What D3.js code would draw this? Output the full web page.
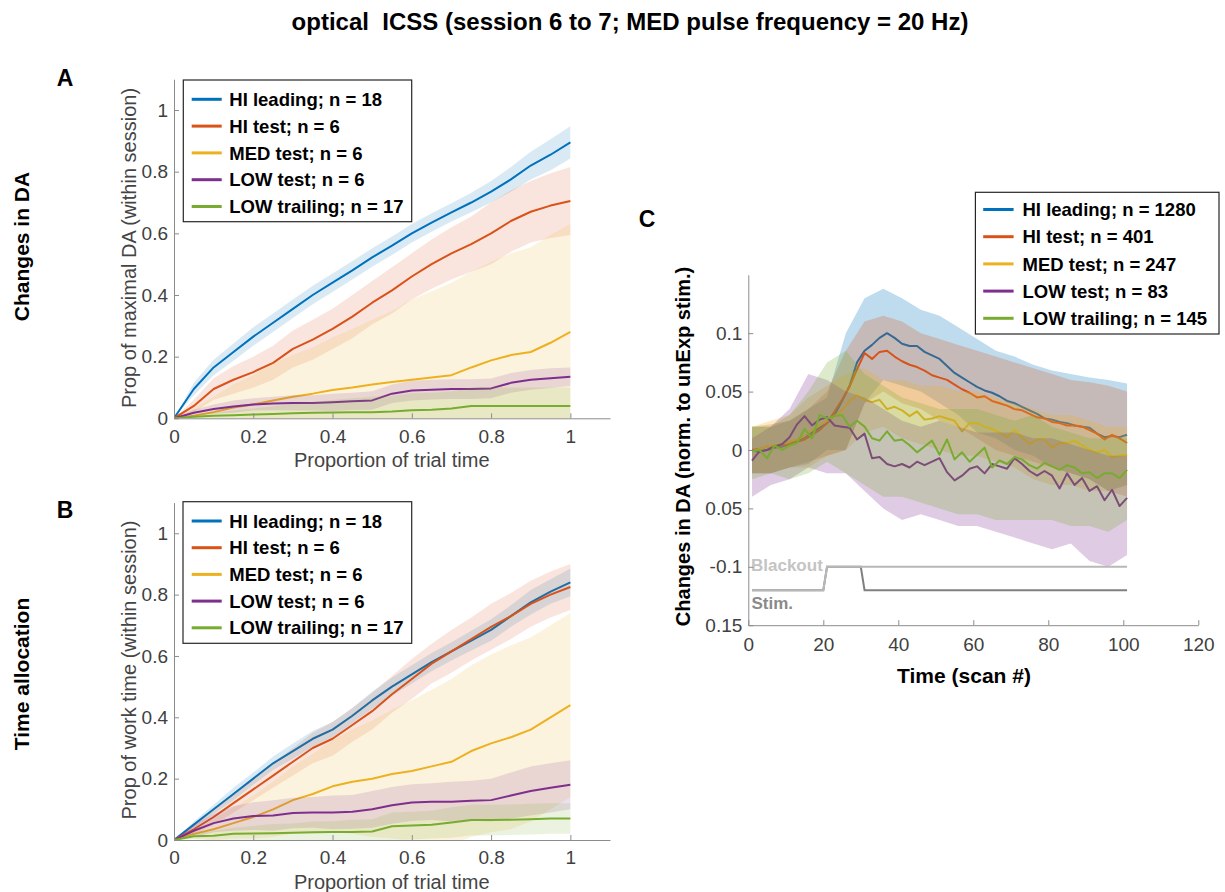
<!DOCTYPE html>
<html>
<head>
<meta charset="utf-8">
<script src="https://cdn.jsdelivr.net/npm/d3@7"></script>
<style>
  body { margin: 0; background: #fff; }
  svg { display: block; }
</style>
</head>
<body>
<svg id="fig" width="1225" height="892"></svg>
<script>
// ---------- shared series definitions ----------
const seriesNames  = ["HI leading", "HI test", "MED test", "LOW test", "LOW trailing"];
const seriesColors = ["#0072BD", "#D95319", "#EDB120", "#7E2F8E", "#77AC30"];
const nSessionsAB  = [18, 6, 6, 6, 17];
const nScansC      = [1280, 401, 247, 83, 145];

// ---------- panels A & B: proportion of trial time ----------
const trialProp = [0, 0.05, 0.1, 0.15, 0.2, 0.25, 0.3, 0.35, 0.4, 0.45, 0.5,
                   0.55, 0.6, 0.65, 0.7, 0.75, 0.8, 0.85, 0.9, 0.95, 1];
const propTicks = [0, 0.2, 0.4, 0.6, 0.8, 1];
const propTickLabels = ["0", "0.2", "0.4", "0.6", "0.8", "1"];

// A: proportion of maximal DA (mean and SEM)
const daHiLeading    = [0, 0.095, 0.165, 0.215, 0.265, 0.31, 0.355, 0.4, 0.44, 0.48, 0.522, 0.56, 0.6, 0.635, 0.668, 0.7, 0.735, 0.775, 0.82, 0.855, 0.895];
const daHiLeadingSem = [0, 0.02, 0.025, 0.028, 0.03, 0.03, 0.03, 0.03, 0.03, 0.03, 0.03, 0.03, 0.03, 0.03, 0.03, 0.032, 0.035, 0.04, 0.045, 0.05, 0.052];
const daHiTest       = [0, 0.04, 0.095, 0.125, 0.15, 0.18, 0.225, 0.255, 0.29, 0.33, 0.375, 0.415, 0.46, 0.5, 0.535, 0.565, 0.6, 0.64, 0.67, 0.69, 0.705];
const daHiTestSem    = [0, 0.02, 0.035, 0.045, 0.05, 0.055, 0.06, 0.065, 0.065, 0.07, 0.07, 0.075, 0.075, 0.08, 0.085, 0.09, 0.1, 0.1, 0.1, 0.105, 0.11];
const daMedTest      = [0, 0.008, 0.02, 0.035, 0.045, 0.058, 0.07, 0.08, 0.092, 0.1, 0.11, 0.118, 0.125, 0.132, 0.14, 0.165, 0.188, 0.205, 0.215, 0.245, 0.28];
const daMedTestSem   = [0, 0.025, 0.05, 0.075, 0.095, 0.12, 0.135, 0.15, 0.17, 0.19, 0.21, 0.23, 0.26, 0.28, 0.3, 0.31, 0.32, 0.33, 0.34, 0.35, 0.35];
const daLowTest      = [0, 0.018, 0.03, 0.038, 0.045, 0.048, 0.05, 0.05, 0.052, 0.055, 0.058, 0.08, 0.09, 0.093, 0.095, 0.095, 0.097, 0.115, 0.125, 0.13, 0.135];
const daLowTestSem   = [0, 0.01, 0.015, 0.02, 0.02, 0.022, 0.025, 0.025, 0.028, 0.028, 0.03, 0.03, 0.032, 0.032, 0.032, 0.032, 0.032, 0.032, 0.032, 0.032, 0.03];
const daLowTrail     = [0, 0.005, 0.008, 0.01, 0.012, 0.014, 0.016, 0.018, 0.019, 0.02, 0.02, 0.022, 0.026, 0.028, 0.032, 0.04, 0.04, 0.04, 0.04, 0.04, 0.04];
const daLowTrailSem  = [0, 0.005, 0.01, 0.015, 0.02, 0.025, 0.03, 0.035, 0.04, 0.045, 0.05, 0.05, 0.055, 0.055, 0.055, 0.06, 0.06, 0.06, 0.06, 0.06, 0.06];

// B: proportion of work time (mean and SEM)
const wtHiLeading    = [0, 0.05, 0.1, 0.15, 0.2, 0.25, 0.29, 0.33, 0.36, 0.405, 0.455, 0.5, 0.54, 0.58, 0.615, 0.65, 0.685, 0.73, 0.775, 0.81, 0.84];
const wtHiLeadingSem = [0, 0.01, 0.015, 0.02, 0.02, 0.022, 0.025, 0.025, 0.025, 0.025, 0.028, 0.03, 0.03, 0.03, 0.03, 0.032, 0.035, 0.035, 0.04, 0.04, 0.045];
const wtHiTest       = [0, 0.035, 0.075, 0.12, 0.165, 0.21, 0.255, 0.3, 0.33, 0.375, 0.42, 0.475, 0.525, 0.575, 0.615, 0.655, 0.695, 0.73, 0.77, 0.8, 0.825];
const wtHiTestSem    = [0, 0.015, 0.025, 0.03, 0.035, 0.04, 0.045, 0.05, 0.055, 0.055, 0.06, 0.06, 0.065, 0.065, 0.07, 0.07, 0.075, 0.075, 0.075, 0.075, 0.075];
const wtMedTest      = [0, 0.02, 0.035, 0.055, 0.075, 0.1, 0.13, 0.15, 0.175, 0.19, 0.2, 0.215, 0.225, 0.24, 0.255, 0.29, 0.315, 0.335, 0.36, 0.4, 0.44];
const wtMedTestSem   = [0, 0.015, 0.035, 0.05, 0.07, 0.09, 0.11, 0.13, 0.15, 0.17, 0.19, 0.21, 0.23, 0.25, 0.27, 0.28, 0.29, 0.3, 0.3, 0.3, 0.3];
const wtLowTest      = [0, 0.03, 0.055, 0.07, 0.078, 0.08, 0.088, 0.09, 0.09, 0.092, 0.1, 0.113, 0.122, 0.125, 0.125, 0.128, 0.13, 0.145, 0.16, 0.17, 0.18];
const wtLowTestSem   = [0, 0.02, 0.03, 0.04, 0.045, 0.05, 0.05, 0.05, 0.055, 0.055, 0.06, 0.06, 0.06, 0.06, 0.065, 0.065, 0.07, 0.075, 0.08, 0.08, 0.08];
const wtLowTrail     = [0, 0.012, 0.014, 0.02, 0.021, 0.022, 0.024, 0.025, 0.026, 0.026, 0.028, 0.045, 0.047, 0.05, 0.057, 0.065, 0.065, 0.066, 0.068, 0.07, 0.07];
const wtLowTrailSem  = [0, 0.01, 0.015, 0.02, 0.025, 0.03, 0.03, 0.035, 0.035, 0.04, 0.04, 0.045, 0.045, 0.045, 0.05, 0.05, 0.05, 0.05, 0.05, 0.05, 0.05];

// ---------- panel C: DA time course per scan ----------
const scanGrid = d3.range(1, 102, 2);            // scans 1, 3, ..., 101
const bandGrid = d3.range(1, 102, 5);            // scans 1, 6, ..., 101
const scanTicks = [0, 20, 40, 60, 80, 100, 120];
const daTicksC = [-0.15, -0.1, -0.05, 0, 0.05, 0.1];
const daTickLabelsC = ["0.15", "-0.1", "0.05", "0", "0.05", "0.1"];

const cHiLeading = [0.000,-0.002,0.000,0.002,0.003,0.005,0.008,0.011,0.015,0.019,0.023,0.030,0.042,0.055,0.075,0.085,0.090,0.096,0.100,0.096,
  0.091,0.089,0.089,0.084,0.081,0.078,0.072,0.066,0.062,0.058,0.054,0.051,0.049,0.046,0.042,0.040,0.037,0.034,0.031,0.027,
  0.026,0.024,0.023,0.021,0.020,0.019,0.014,0.011,0.012,0.011,0.013];
const cHiTest = [0.000,0.001,0.003,0.003,0.004,0.005,0.007,0.009,0.013,0.017,0.023,0.033,0.043,0.054,0.069,0.083,0.078,0.084,0.085,0.080,
  0.076,0.073,0.071,0.068,0.064,0.062,0.060,0.056,0.052,0.049,0.045,0.046,0.042,0.040,0.038,0.035,0.034,0.031,0.028,0.027,
  0.024,0.023,0.021,0.021,0.020,0.017,0.014,0.009,0.013,0.010,0.006];
const cMedTest = [-0.001,0.001,0.003,0.004,0.005,0.007,0.009,0.012,0.017,0.021,0.025,0.029,0.034,0.042,0.047,0.043,0.041,0.043,0.035,0.037,
  0.034,0.029,0.033,0.026,0.027,0.029,0.027,0.025,0.016,0.023,0.023,0.020,0.018,0.015,0.011,0.017,0.011,0.005,0.009,0.009,
  0.002,0.006,0.006,0.008,0.004,0.000,-0.002,0.000,-0.006,-0.005,-0.004];
const cLowTest = [-0.009,-0.001,0.000,0.003,0.005,0.011,0.022,0.029,0.021,0.026,0.028,0.021,0.020,0.019,0.009,0.014,-0.007,-0.006,-0.012,-0.014,
  -0.012,-0.015,-0.010,-0.013,-0.010,-0.007,-0.019,-0.026,-0.022,-0.016,-0.014,-0.020,-0.012,-0.014,-0.016,-0.007,-0.012,-0.018,-0.022,-0.018,
  -0.022,-0.033,-0.020,-0.030,-0.024,-0.035,-0.031,-0.043,-0.034,-0.048,-0.041];
const cLowTrail = [-0.001,0.000,-0.007,0.004,0.000,0.004,0.006,0.018,0.010,0.030,0.027,0.029,0.030,0.020,0.025,0.020,0.010,0.008,0.016,0.008,
  0.009,0.004,-0.002,0.003,0.008,-0.004,0.009,-0.008,-0.002,-0.010,-0.004,0.002,-0.015,-0.009,-0.012,-0.006,-0.008,-0.013,-0.016,-0.011,
  -0.014,-0.017,-0.013,-0.015,-0.020,-0.019,-0.024,-0.020,-0.020,-0.024,-0.017];

const cHiLeadingLo = [-0.02,-0.02,-0.015,-0.012,0.0,0.0,0.04,0.06,0.055,0.05,0.04,0.03,0.015,0.01,0.0,-0.005,-0.015,-0.02,-0.025,-0.035,-0.03];
const cHiLeadingHi = [0.02,0.02,0.025,0.035,0.045,0.1,0.13,0.138,0.13,0.12,0.115,0.105,0.095,0.085,0.08,0.073,0.068,0.065,0.062,0.06,0.057];
const cHiTestLo    = [-0.02,-0.02,-0.015,-0.01,-0.005,0.0,0.04,0.05,0.04,0.035,0.025,0.02,0.01,0.0,-0.005,-0.01,-0.015,-0.02,-0.025,-0.035,-0.04];
const cHiTestHi    = [0.02,0.022,0.025,0.035,0.05,0.085,0.11,0.115,0.11,0.1,0.095,0.09,0.085,0.08,0.075,0.07,0.065,0.06,0.058,0.055,0.05];
const cMedTestLo   = [-0.02,-0.02,-0.015,-0.015,-0.005,0.0,0.015,0.02,0.01,0.005,0.0,-0.005,-0.005,-0.01,-0.015,-0.025,-0.03,-0.03,-0.035,-0.035,-0.03];
const cMedTestHi   = [0.02,0.025,0.03,0.045,0.055,0.065,0.07,0.06,0.06,0.055,0.055,0.05,0.05,0.045,0.04,0.035,0.03,0.03,0.025,0.02,0.02];
const cLowTestLo   = [-0.04,-0.03,-0.025,-0.015,-0.02,-0.02,-0.035,-0.05,-0.06,-0.055,-0.06,-0.065,-0.065,-0.07,-0.075,-0.08,-0.085,-0.08,-0.095,-0.1,-0.09];
const cLowTestHi   = [0.01,0.02,0.035,0.065,0.06,0.05,0.045,0.035,0.025,0.02,0.025,0.02,0.015,0.015,0.015,0.01,0.01,0.005,0.0,-0.005,-0.005];
const cLowTrailLo  = [-0.025,-0.02,-0.025,-0.02,-0.01,-0.02,-0.03,-0.04,-0.04,-0.045,-0.05,-0.055,-0.055,-0.06,-0.06,-0.06,-0.06,-0.065,-0.065,-0.07,-0.06];
const cLowTrailHi  = [0.02,0.02,0.03,0.05,0.075,0.085,0.065,0.055,0.045,0.04,0.035,0.035,0.035,0.03,0.025,0.03,0.02,0.015,0.01,0.01,0.01];

// stimulation / blackout event traces
const stimScan     = [1, 20, 21, 30, 31, 101];
const stimLevel    = [-0.12, -0.12, -0.1, -0.1, -0.12, -0.12];
const blackoutScan = [1, 20, 21, 101];
const blackoutLevel= [-0.12, -0.12, -0.1, -0.1];

// ---------- drawing ----------
const FONT = '"Liberation Sans", Arial, Helvetica, sans-serif';
const AXIS_GRAY = "#8c8c8c";
const TICK_TEXT = "#404040";
const svg = d3.select("#fig").style("font-family", FONT);

const xAB = d3.scaleLinear().domain([0, 1.1]).range([174, 610]);
const yA  = d3.scaleLinear().domain([0, 1.1]).range([418.3, 79.2]);
const yB  = d3.scaleLinear().domain([0, 1.1]).range([840, 502.6]);
const xC  = d3.scaleLinear().domain([0, 120]).range([748.3, 1198.3]);
const yC  = d3.scaleLinear().domain([-0.15, 0.15]).range([625.2, 274.8]);

const defs = svg.append("defs");
function clipFor(id, x, y) {
  defs.append("clipPath").attr("id", id).append("rect")
    .attr("x", x.range()[0]).attr("y", y.range()[1])
    .attr("width", x.range()[1] - x.range()[0])
    .attr("height", y.range()[0] - y.range()[1]);
  return `url(#${id})`;
}

function shaded(g, xs, mean, bxs, lo, hi, color, alpha, x, y) {
  const area = d3.area().x(d => x(d[0])).y0(d => y(d[1])).y1(d => y(d[2]));
  g.append("path")
    .datum(bxs.map((v, i) => [v, lo[i], hi[i]]))
    .attr("d", area).attr("fill", color).attr("fill-opacity", alpha).attr("stroke", "none");
  const line = d3.line().x(d => x(d[0])).y(d => y(d[1]));
  g.append("path")
    .datum(xs.map((v, i) => [v, mean[i]]))
    .attr("d", line).attr("fill", "none").attr("stroke", color)
    .attr("stroke-width", 2).attr("stroke-linejoin", "round");
}

function styleAxis(sel, size) {
  sel.select(".domain").attr("stroke", AXIS_GRAY).attr("stroke-width", 1);
  sel.selectAll(".tick line").attr("stroke", AXIS_GRAY);
  sel.selectAll(".tick text").attr("fill", TICK_TEXT)
    .attr("font-size", size).attr("font-family", FONT);
}

function axes(x, y, xTicks, xLabels, yTicks, yLabels, xPad) {
  const gx = svg.append("g").attr("transform", `translate(0,${y.range()[0]})`)
    .call(d3.axisBottom(x).tickValues(xTicks).tickFormat((d, i) => xLabels[i])
      .tickSizeInner(-5).tickSizeOuter(0).tickPadding(xPad));
  styleAxis(gx, 19);
  const gy = svg.append("g").attr("transform", `translate(${x.range()[0]},0)`)
    .call(d3.axisLeft(y).tickValues(yTicks).tickFormat((d, i) => yLabels[i])
      .tickSizeInner(-5).tickSizeOuter(0).tickPadding(6));
  styleAxis(gy, 19);
}

function legend(x0, y0, w, h, rowY0, rowStep, lineX0, lineX1, textX, counts) {
  const g = svg.append("g");
  g.append("rect").attr("x", x0).attr("y", y0).attr("width", w).attr("height", h)
    .attr("fill", "#fff").attr("stroke", "#262626").attr("stroke-width", 1.2);
  seriesNames.forEach((name, i) => {
    const yy = rowY0 + i * rowStep;
    g.append("line").attr("x1", lineX0).attr("x2", lineX1).attr("y1", yy).attr("y2", yy)
      .attr("stroke", seriesColors[i]).attr("stroke-width", 3);
    g.append("text").attr("x", textX).attr("y", yy).attr("dy", "0.36em")
      .attr("font-size", 18.5).attr("font-weight", "bold").attr("fill", "#000")
      .text(`${name}; n = ${counts[i]}`);
  });
}

function rotLabel(x, y, txt, size, weight, color) {
  svg.append("text").attr("transform", `translate(${x},${y}) rotate(-90)`)
    .attr("text-anchor", "middle").attr("font-size", size).attr("font-weight", weight)
    .attr("fill", color).text(txt);
}

// Title (double space kept as written)
svg.append("text").attr("x", 630).attr("y", 30).attr("text-anchor", "middle")
  .attr("xml:space", "preserve").style("white-space", "pre")
  .attr("font-size", 24).attr("font-weight", "bold").attr("fill", "#000")
  .text("optical  ICSS (session 6 to 7; MED pulse frequency = 20 Hz)");

// Panel A / B
const panelAB = [
  { y: yA, clip: "clipA",
    means: [daHiLeading, daHiTest, daMedTest, daLowTest, daLowTrail],
    sems:  [daHiLeadingSem, daHiTestSem, daMedTestSem, daLowTestSem, daLowTrailSem] },
  { y: yB, clip: "clipB",
    means: [wtHiLeading, wtHiTest, wtMedTest, wtLowTest, wtLowTrail],
    sems:  [wtHiLeadingSem, wtHiTestSem, wtMedTestSem, wtLowTestSem, wtLowTrailSem] }
];
panelAB.forEach(p => {
  const g = svg.append("g").attr("clip-path", clipFor(p.clip, xAB, p.y));
  p.means.forEach((m, i) => {
    const lo = m.map((v, k) => v - p.sems[i][k]);
    const hi = m.map((v, k) => v + p.sems[i][k]);
    shaded(g, trialProp, m, trialProp, lo, hi, seriesColors[i], 0.15, xAB, p.y);
  });
  axes(xAB, p.y, propTicks, propTickLabels, propTicks, propTickLabels, 11);
});

// Panel C
const gC = svg.append("g").attr("clip-path", clipFor("clipC", xC, yC));
const cMeans = [cHiLeading, cHiTest, cMedTest, cLowTest, cLowTrail];
const cLos = [cHiLeadingLo, cHiTestLo, cMedTestLo, cLowTestLo, cLowTrailLo];
const cHis = [cHiLeadingHi, cHiTestHi, cMedTestHi, cLowTestHi, cLowTrailHi];
cMeans.forEach((m, i) => shaded(gC, scanGrid, m, bandGrid, cLos[i], cHis[i], seriesColors[i], 0.25, xC, yC));

const evLine = d3.line().x(d => xC(d[0])).y(d => yC(d[1]));
svg.append("path").datum(stimScan.map((v, i) => [v, stimLevel[i]]))
  .attr("d", evLine).attr("fill", "none").attr("stroke", "#808080").attr("stroke-width", 2);
svg.append("path").datum(blackoutScan.map((v, i) => [v, blackoutLevel[i]]))
  .attr("d", evLine).attr("fill", "none").attr("stroke", "#b8b8b8").attr("stroke-width", 2);
svg.append("text").attr("x", 751).attr("y", 565).attr("dy", "0.36em")
  .attr("font-size", 17).attr("font-weight", "bold").attr("fill", "#c4c4c4").text("Blackout");
svg.append("text").attr("x", 751.5).attr("y", 603).attr("dy", "0.36em")
  .attr("font-size", 17).attr("font-weight", "bold").attr("fill", "#8a8a8a").text("Stim.");

axes(xC, yC, scanTicks, scanTicks.map(String), daTicksC, daTickLabelsC, 12);

// Axis labels
[460, 881.7].forEach(cy => {
  svg.append("text").attr("x", 391.7).attr("y", cy).attr("dy", "0.36em").attr("text-anchor", "middle")
    .attr("font-size", 20).attr("fill", "#444").text("Proportion of trial time");
});
rotLabel(136, 248, "Prop of maximal DA (within session)", 20, "normal", "#444");
rotLabel(136, 670, "Prop of work time (within session)", 20, "normal", "#444");

svg.append("text").attr("x", 964).attr("y", 675).attr("dy", "0.36em").attr("text-anchor", "middle")
  .attr("font-size", 21).attr("font-weight", "bold").attr("fill", "#000").text("Time (scan #)");
rotLabel(690, 446.5, "Changes in DA (norm. to unExp stim.)", 20, "bold", "#000");

// Row labels and panel letters
rotLabel(29, 246.5, "Changes in DA", 21, "bold", "#000");
rotLabel(29, 674, "Time allocation", 21, "bold", "#000");
[["A", 65, 78], ["B", 65, 509.5], ["C", 647, 219]].forEach(([t, x, y]) => {
  svg.append("text").attr("x", x).attr("y", y).attr("dy", "0.36em").attr("text-anchor", "middle")
    .attr("font-size", 23).attr("font-weight", "bold").attr("fill", "#000").text(t);
});

// Legends
legend(183.3, 80, 228.4, 141.7, 99.3, 26.8, 191.7, 221.7, 229.3, nSessionsAB);
legend(183, 501.7, 228.7, 141.6, 521, 26.7, 191.7, 221.7, 229.3, nSessionsAB);
legend(975.4, 192.3, 243.6, 141.7, 209.5, 27.2, 983.2, 1013.6, 1022.5, nScansC);
</script>
</body>
</html>
